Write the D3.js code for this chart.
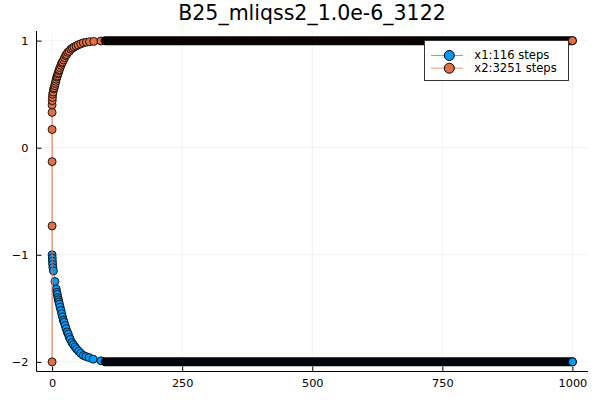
<!DOCTYPE html>
<html><head><meta charset="utf-8">
<script src="https://cdn.jsdelivr.net/npm/d3@7"></script>
<style>body{margin:0;background:#fff}svg{display:block}text{font-family:"DejaVu Sans",sans-serif}</style>
</head><body><svg id="c" width="600" height="400"></svg>
<script>
const title = "B25_mliqss2_1.0e-6_3122";
const seriesNames = ["x1:116 steps", "x2:3251 steps"];
const seriesColors = ["#009AFA", "#E26F46"];
const xTicks = [0, 250, 500, 750, 1000];
const yTicks = [-2, -1, 0, 1];
const xDomain = [-30, 1030];
const yDomain = [-2.09, 1.09];

// x1 transient (time, value)
const x1Time = [0,0.3,0.6,1.0,1.5,2.5,5.5,8,9,10,11,12,13,14,15.5,17,18.5,20,21.5,23,25,27,29,31,33,35,38,41,44,47,51,55,60,65,71,79,94];
const x1Value = [-1.00,-1.03,-1.06,-1.09,-1.12,-1.15,-1.25,-1.32,-1.35,-1.37,-1.40,-1.42,-1.44,-1.46,-1.49,-1.52,-1.55,-1.58,-1.61,-1.63,-1.66,-1.69,-1.72,-1.74,-1.77,-1.79,-1.82,-1.84,-1.86,-1.88,-1.90,-1.92,-1.94,-1.95,-1.96,-1.975,-1.99];
// x1 densely sampled plateau (time, value)
const x1DenseTime = [102, 1000];
const x1DenseValue = [-2, -2];

// x2 transient (time, value)
const x2Time = [0,0,0,0,0,0,0.3,0.6,1,2,3,4,5,6,7,8,9,10,11,12,13,14,15.5,17,18.5,20,22,24,26,28,30,33,36,39,42,46,50,55,60,66,72,80,94];
const x2Value = [-2.0,-0.73,-0.13,0.17,0.33,0.40,0.44,0.47,0.50,0.52,0.55,0.56,0.58,0.60,0.62,0.64,0.66,0.67,0.69,0.70,0.72,0.73,0.75,0.77,0.79,0.80,0.82,0.84,0.86,0.87,0.89,0.90,0.92,0.93,0.94,0.95,0.96,0.97,0.98,0.985,0.99,0.993,0.997];
const x2DenseTime = [102, 1000];
const x2DenseValue = [1, 1];

const svg = d3.select("#c");
const L = 36.5, R = 588, T = 31, B = 371.5;
const x = d3.scaleLinear().domain(xDomain).range([L, R]);
const y = d3.scaleLinear().domain(yDomain).range([B, T]);

// grid
const g = svg.append("g");
g.selectAll(".gx").data(xTicks).enter().append("line")
  .attr("x1", d => x(d)).attr("x2", d => x(d)).attr("y1", T).attr("y2", B)
  .attr("stroke", "#000").attr("stroke-opacity", 0.1).attr("stroke-width", 0.5);
g.selectAll(".gy").data(yTicks).enter().append("line")
  .attr("y1", d => y(d)).attr("y2", d => y(d)).attr("x1", L).attr("x2", R)
  .attr("stroke", "#000").attr("stroke-opacity", 0.1).attr("stroke-width", 0.5);

// axes
const xAxis = d3.axisBottom(x).tickValues(xTicks).tickSizeInner(-5).tickSizeOuter(0).tickPadding(7).tickFormat(d3.format("d"));
const yAxis = d3.axisLeft(y).tickValues(yTicks).tickSizeInner(-5).tickSizeOuter(0).tickPadding(8).tickFormat(d => d < 0 ? "\u2212" + Math.abs(d) : String(d));
const ax = svg.append("g").attr("transform", `translate(0,${B})`).call(xAxis);
const ay = svg.append("g").attr("transform", `translate(${L},0)`).call(yAxis);
[ax, ay].forEach(a => {
  a.select(".domain").attr("stroke", "#000").attr("stroke-width", 1);
  a.selectAll(".tick line").attr("stroke", "#000");
  a.selectAll("text").attr("font-size", 11.3).attr("fill", "#000").attr("font-family", "DejaVu Sans, sans-serif");
});
ax.select(".domain").attr("d", `M${L},0H${R}`);
ay.select(".domain").attr("d", `M0,${B}V${T}`);

const plot = svg.append("g");
const line = d3.line().x(d => x(d[0])).y(d => y(d[1]));
const R_M = 4;
const series = [
  { t: x1Time, v: x1Value, dt: x1DenseTime, dv: x1DenseValue, color: seriesColors[0], band: "#01070c" },
  { t: x2Time, v: x2Value, dt: x2DenseTime, dv: x2DenseValue, color: seriesColors[1], band: "#0a0503" }
];
series.forEach(s => {
  const pts = s.t.map((t, i) => [t, s.v[i]]);
  const dense = s.dt.map((t, i) => [t, s.dv[i]]);
  const all = pts.concat(dense);
  plot.append("path").attr("d", line(all)).attr("fill", "none").attr("stroke", s.color).attr("stroke-width", 1);
  plot.selectAll(null).data(pts).enter().append("circle")
    .attr("cx", d => x(d[0])).attr("cy", d => y(d[1])).attr("r", R_M)
    .attr("fill", s.color).attr("stroke", "#000").attr("stroke-opacity", 0.85).attr("stroke-width", 1);
  // densely overlapping markers render as a solid dark band
  plot.append("path").attr("d", line(dense)).attr("fill", "none").attr("stroke", s.band)
    .attr("stroke-width", 2 * R_M + 1).attr("stroke-linecap", "round");
  const last = dense[dense.length - 1];
  plot.append("circle").attr("cx", x(last[0])).attr("cy", y(last[1])).attr("r", R_M)
    .attr("fill", s.color).attr("stroke", "#000").attr("stroke-opacity", 0.85).attr("stroke-width", 1);
});

// title
svg.append("text").attr("x", 312).attr("y", 20).attr("text-anchor", "middle")
  .attr("font-size", 20.5).attr("fill", "#000").text(title);

// legend
const lg = svg.append("g");
lg.append("rect").attr("x", 424.5).attr("y", 40.5).attr("width", 144).attr("height", 40)
  .attr("fill", "#fff").attr("stroke", "#333").attr("stroke-width", 1);
seriesNames.forEach((name, i) => {
  const yy = 55.5 + i * 12.7;
  lg.append("line").attr("x1", 431).attr("x2", 463).attr("y1", yy).attr("y2", yy)
    .attr("stroke", seriesColors[i]).attr("stroke-opacity", 0.7).attr("stroke-width", 1);
  lg.append("circle").attr("cx", 449.3).attr("cy", yy).attr("r", 5)
    .attr("fill", seriesColors[i]).attr("stroke", "#000").attr("stroke-width", 1);
  lg.append("text").attr("x", 474.3).attr("y", yy + 3.8).attr("font-size", 11.6).attr("fill", "#000").text(name);
});
</script></body></html>
